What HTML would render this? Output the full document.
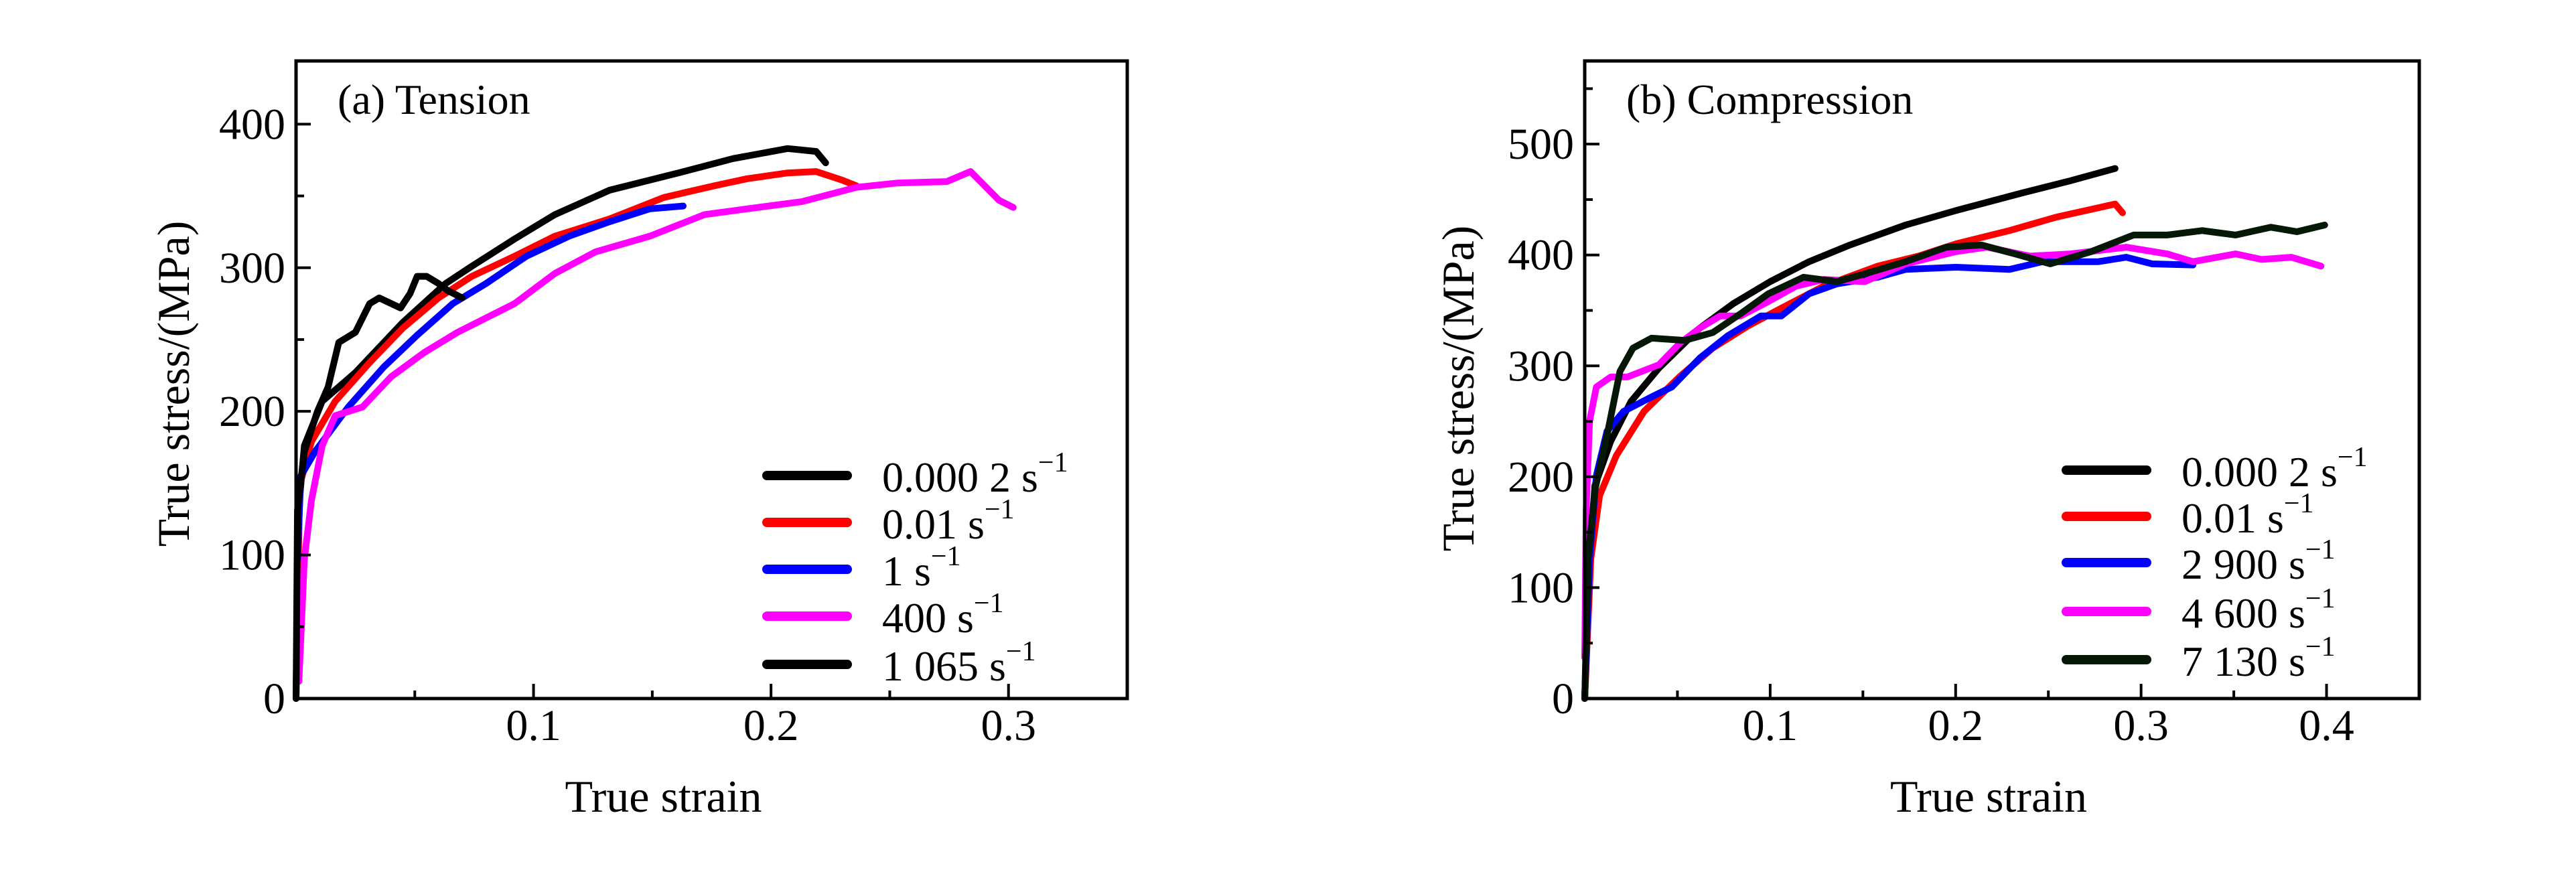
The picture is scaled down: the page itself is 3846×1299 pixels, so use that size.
<!DOCTYPE html>
<html><head><meta charset="utf-8"><style>
html,body{margin:0;padding:0;background:#fff}
svg{display:block}
text{font-family:"Liberation Serif",serif;fill:#000}
</style></head><body>
<svg id="fig" width="3846" height="1299" viewBox="0 0 3846 1299" xmlns="http://www.w3.org/2000/svg">
<g id="pa"></g>
<g id="pb"></g>
</svg>
<script>
// ---- Tension data (strain, stress MPa) ----
const tLabels=["0.000 2 s","0.01 s","1 s","400 s","1 065 s"];
const tColors=["#000000","#ff0000","#0000ff","#ff00ff","#000000"];
const tS1=[[0,0],[0.001,130],[0.0035,176],[0.011,207],[0.025,227],[0.045,262],[0.063,289],[0.074,301],[0.092,320],[0.109,337],[0.132,354],[0.161,366],[0.184,376],[0.207,383],[0.219,381],[0.223,373]];
const tS2=[[0,0],[0.0015,148],[0.0065,179],[0.0165,207],[0.031,234],[0.045,258],[0.06,279],[0.074,294],[0.092,308],[0.109,322],[0.132,334],[0.155,349],[0.176,357],[0.19,362],[0.207,366],[0.219,367],[0.23,361],[0.236,357]];
const tS3=[[0.0006,97],[0.002,155],[0.008,172],[0.022,203],[0.037,231],[0.051,253],[0.066,275],[0.08,289],[0.097,308],[0.115,322],[0.132,332],[0.149,341],[0.163,343]];
const tS4=[[0.0012,12],[0.0035,97],[0.0065,138],[0.011,176],[0.0165,197],[0.028,203],[0.04,224],[0.054,241],[0.068,255],[0.092,275],[0.109,296],[0.126,311],[0.149,322],[0.172,337],[0.19,341],[0.213,346],[0.236,356],[0.253,359],[0.274,360],[0.284,367],[0.29,357],[0.296,347],[0.302,342]];
const tS5=[[0,0],[0.0006,131],[0.0035,172],[0.009,200],[0.0135,217],[0.018,248],[0.025,255],[0.031,275],[0.035,279],[0.044,272],[0.048,282],[0.051,294],[0.055,294],[0.06,289],[0.064,284],[0.07,279]];
// ---- Compression data ----
const cLabels=["0.000 2 s","0.01 s","2 900 s","4 600 s","7 130 s"];
const cColors=["#000000","#ff0000","#0000ff","#ff00ff","#051805"];
const cS1=[[0,0],[0.0026,126],[0.0055,192],[0.014,232],[0.025,268],[0.04,298],[0.062,334],[0.08,356],[0.1,376],[0.121,394],[0.143,409],[0.173,427],[0.2,440],[0.236,456],[0.262,467],[0.286,478]];
const cS2=[[0,0],[0.0033,126],[0.008,183],[0.017,219],[0.032,259],[0.051,290],[0.069,316],[0.088,336],[0.106,352],[0.129,372],[0.158,390],[0.18,399],[0.2,410],[0.229,422],[0.254,434],[0.286,446],[0.29,438]];
const cS3=[[0,0],[0.0026,126],[0.0063,201],[0.012,241],[0.021,259],[0.036,272],[0.047,281],[0.062,307],[0.077,327],[0.095,345],[0.106,345],[0.121,365],[0.136,374],[0.158,380],[0.173,387],[0.2,389],[0.229,387],[0.247,394],[0.277,394],[0.292,398],[0.306,392],[0.328,391]];
const cS4=[[0,37],[0.0008,170],[0.0026,250],[0.0063,281],[0.014,290],[0.023,290],[0.04,301],[0.051,320],[0.062,334],[0.073,345],[0.084,345],[0.099,358],[0.114,372],[0.129,378],[0.151,376],[0.173,392],[0.2,403],[0.217,407],[0.24,399],[0.262,401],[0.292,407],[0.314,401],[0.328,394],[0.351,401],[0.365,396],[0.381,398],[0.397,390]];
const cS5=[[0,0],[0.0018,126],[0.0055,188],[0.012,237],[0.019,295],[0.026,316],[0.036,325],[0.054,323],[0.069,330],[0.084,347],[0.099,365],[0.118,380],[0.136,376],[0.151,383],[0.173,394],[0.195,407],[0.214,409],[0.232,401],[0.251,392],[0.273,403],[0.296,418],[0.314,418],[0.333,422],[0.351,418],[0.37,425],[0.384,421],[0.399,427]];
const tXTicks=[0.1,0.2,0.3];
const tYTicks=[0,100,200,300,400];
const cXTicks=[0.1,0.2,0.3,0.4];
const cYTicks=[0,100,200,300,400,500];

const NS="http://www.w3.org/2000/svg";
function mk(parent,tag,attrs){const e=document.createElementNS(NS,tag);for(const k in attrs)e.setAttribute(k,attrs[k]);parent.appendChild(e);return e;}

function panel(g,cfg){
  const {L,R,T,B,xmax,ymax}=cfg;
  const X=v=>L+v/xmax*(R-L), Y=v=>B-v/ymax*(B-T);
  // series
  cfg.series.forEach((s,i)=>{
    const d=s.map((p,j)=>(j?"L":"M")+X(p[0]).toFixed(1)+" "+Y(p[1]).toFixed(1)).join("");
    const p=mk(g,"path",{d:d,fill:"none",stroke:cfg.colors[i],"stroke-width":10,"stroke-linejoin":"round","stroke-linecap":"round"});
    
    
  });
  // frame
  const f=mk(g,"rect",{x:L,y:T,width:R-L,height:B-T,fill:"none",stroke:"#000","stroke-width":5});
  
  
  // x ticks
  for(let v=cfg.xminor;v<xmax-1e-9;v+=cfg.xminor){
    const major=Math.abs(v/ (2*cfg.xminor)-Math.round(v/(2*cfg.xminor)))<1e-6;
    const t=mk(g,"line",{x1:X(v),x2:X(v),y1:B,y2:B-(major?22:12),stroke:"#000","stroke-width":4});
    
    
  }
  cfg.xt.forEach(v=>{
    const t=mk(g,"text",{x:X(v),y:B+62,"font-size":66,"text-anchor":"middle"});t.textContent=String(v);
    
    
  });
  for(let v=50;v<ymax;v+=50){
    const major=v%100===0;
    const t=mk(g,"line",{x1:L,x2:L+(major?22:12),y1:Y(v),y2:Y(v),stroke:"#000","stroke-width":4});
    
    
  }
  cfg.yt.forEach(v=>{
    const t=mk(g,"text",{x:L-16,y:Y(v)+22,"font-size":66,"text-anchor":"end"});t.textContent=String(v);
    
    
  });
  // titles
  const xt=mk(g,"text",{x:(L+R)/2+(cfg.id==='a'?-72:-20),y:1212,"font-size":68,"text-anchor":"middle"});xt.textContent="True strain";
  
  
  const yt=mk(g,"text",{x:0,y:0,"font-size":68,"text-anchor":"middle",transform:`translate(${cfg.ytx},${cfg.yty}) rotate(-90)`});yt.textContent="True stress/(MPa)";
  
  
  const pt=mk(g,"text",{x:L+62,y:170,"font-size":64});pt.textContent=cfg.title;
  
  
  // legend
  cfg.labels.forEach((lab,i)=>{
    const y=cfg.legY[i];
    const ln=mk(g,"line",{x1:cfg.legX,x2:cfg.legX+120,y1:y,y2:y,stroke:cfg.colors[i],"stroke-width":14,"stroke-linecap":"round"});
    
    
    const t=mk(g,"text",{x:cfg.legX+172,y:y+24,"font-size":64});
    
    
    t.appendChild(document.createTextNode(lab));
    const sp=mk(t,"tspan",{"font-size":42,dy:-30});sp.textContent="\u22121";
  });
}
panel(document.getElementById('pa'),{id:'a',L:442,R:1683,T:91,B:1043,xmax:0.35,ymax:444,xminor:0.05,
  series:[tS1,tS2,tS3,tS4,tS5],colors:tColors,labels:tLabels,xt:tXTicks,yt:tYTicks,
  title:"(a) Tension",ytx:282,yty:573,legX:1145,legY:[710,780,850,920,992]});
panel(document.getElementById('pb'),{id:'b',L:2366,R:3612,T:91,B:1043,xmax:0.45,ymax:575,xminor:0.05,
  series:[cS1,cS2,cS3,cS4,cS5],colors:cColors,labels:cLabels,xt:cXTicks,yt:cYTicks,
  title:"(b) Compression",ytx:2200,yty:580,legX:3085,legY:[702,771,840,913,985]});
</script>
</body></html>
